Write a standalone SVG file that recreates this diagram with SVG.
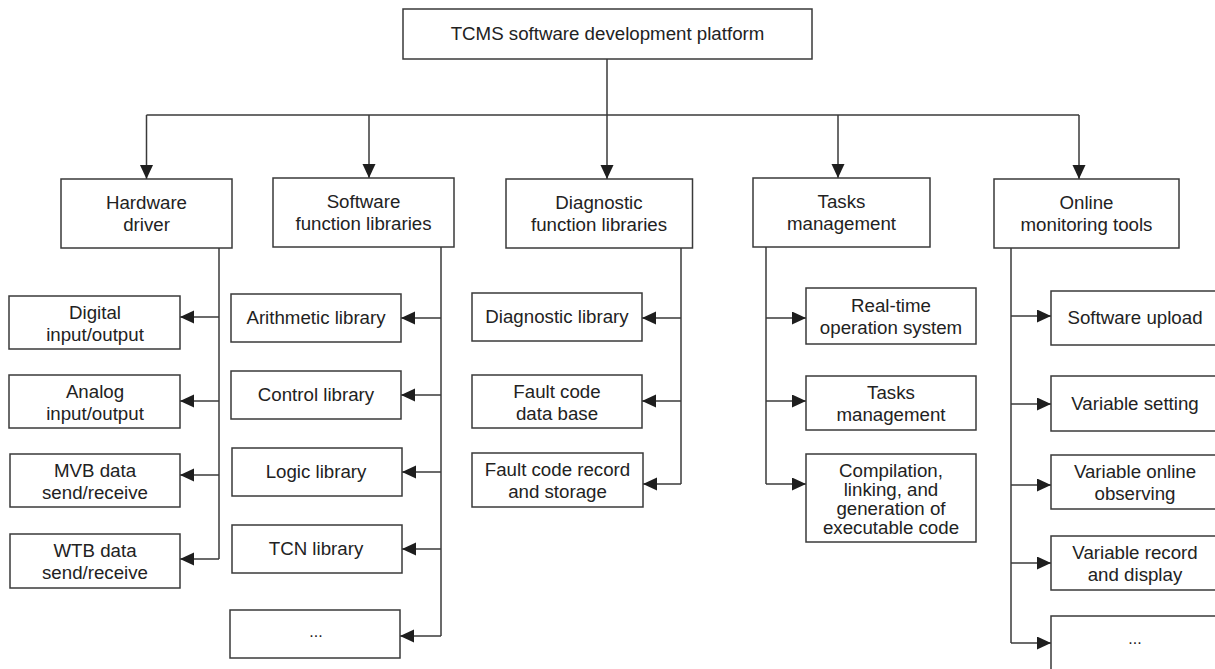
<svg xmlns="http://www.w3.org/2000/svg" width="1215" height="669" viewBox="0 0 1215 669">
<style>
rect{fill:#fff;stroke:#3a3a3a;stroke-width:1.5}
text{font-family:"Liberation Sans",Arial,sans-serif;font-size:18.7px;fill:#222;text-anchor:middle}
.c{fill:none;stroke:#3a3a3a;stroke-width:1.5}
</style>
<defs>
<marker id="a" markerUnits="userSpaceOnUse" markerWidth="14" markerHeight="14" refX="14" refY="6.5" orient="auto">
<path d="M0,0 L14,6.5 L0,13 z" fill="#1e1e1e"/>
</marker>
</defs>
<rect width="1215" height="669" style="fill:#fff;stroke:none"/>
<g id="connectors">
<path class="c" d="M607,59 V179" marker-end="url(#a)"/>
<path class="c" d="M146.5,115 H1079"/>
<path class="c" d="M146.5,115 V179" marker-end="url(#a)"/>
<path class="c" d="M369,115 V178" marker-end="url(#a)"/>
<path class="c" d="M838,115 V178" marker-end="url(#a)"/>
<path class="c" d="M1079,115 V179" marker-end="url(#a)"/>
<path class="c" d="M219,248 V559"/>
<path class="c" d="M219,317 H180" marker-end="url(#a)"/>
<path class="c" d="M219,401 H180" marker-end="url(#a)"/>
<path class="c" d="M219,475 H180" marker-end="url(#a)"/>
<path class="c" d="M219,559 H180" marker-end="url(#a)"/>
<path class="c" d="M441,247 V636"/>
<path class="c" d="M441,318 H401" marker-end="url(#a)"/>
<path class="c" d="M441,395 H401" marker-end="url(#a)"/>
<path class="c" d="M441,472 H402" marker-end="url(#a)"/>
<path class="c" d="M441,549 H402" marker-end="url(#a)"/>
<path class="c" d="M441,636 H400" marker-end="url(#a)"/>
<path class="c" d="M681,248 V484"/>
<path class="c" d="M681,318 H642" marker-end="url(#a)"/>
<path class="c" d="M681,401 H642" marker-end="url(#a)"/>
<path class="c" d="M681,484 H643" marker-end="url(#a)"/>
<path class="c" d="M766,247 V484"/>
<path class="c" d="M766,318 H806" marker-end="url(#a)"/>
<path class="c" d="M766,401 H806" marker-end="url(#a)"/>
<path class="c" d="M766,484 H806" marker-end="url(#a)"/>
<path class="c" d="M1011,248 V643"/>
<path class="c" d="M1011,316 H1051" marker-end="url(#a)"/>
<path class="c" d="M1011,404 H1051" marker-end="url(#a)"/>
<path class="c" d="M1011,485 H1051" marker-end="url(#a)"/>
<path class="c" d="M1011,563 H1051" marker-end="url(#a)"/>
<path class="c" d="M1011,643 H1051" marker-end="url(#a)"/>
</g>
<g id="root"><rect x="403" y="9" width="409" height="50"/><text x="607.5" y="40">TCMS software development platform</text></g>
<g id="hw"><rect x="61" y="179" width="171" height="69"/><text x="146.5" y="209">Hardware</text><text x="146.5" y="231">driver</text></g>
<g id="sw"><rect x="273" y="178" width="181" height="69"/><text x="363.5" y="208">Software</text><text x="363.5" y="230">function libraries</text></g>
<g id="diag"><rect x="506" y="179" width="186.5" height="69"/><text x="599" y="209">Diagnostic</text><text x="599" y="231">function libraries</text></g>
<g id="tasks"><rect x="753" y="178" width="177" height="69"/><text x="841.5" y="208">Tasks</text><text x="841.5" y="230">management</text></g>
<g id="online"><rect x="994" y="179" width="185" height="69"/><text x="1086.5" y="209">Online</text><text x="1086.5" y="231">monitoring tools</text></g>
<g id="digital"><rect x="9" y="296" width="171" height="53"/><text x="95" y="319">Digital</text><text x="95" y="341">input/output</text></g>
<g id="analog"><rect x="9" y="375" width="171" height="53"/><text x="95" y="398">Analog</text><text x="95" y="420">input/output</text></g>
<g id="mvb"><rect x="10" y="454" width="170" height="53"/><text x="95" y="477">MVB data</text><text x="95" y="499">send/receive</text></g>
<g id="wtb"><rect x="10" y="534" width="170" height="54"/><text x="95" y="557">WTB data</text><text x="95" y="579">send/receive</text></g>
<g id="arith"><rect x="231" y="294" width="170" height="48"/><text x="316" y="324">Arithmetic library</text></g>
<g id="control"><rect x="231" y="371" width="170" height="48"/><text x="316" y="401">Control library</text></g>
<g id="logic"><rect x="232" y="448" width="170" height="48"/><text x="316" y="478">Logic library</text></g>
<g id="tcn"><rect x="232" y="525" width="170" height="48"/><text x="316" y="555">TCN library</text></g>
<g id="swmore"><rect x="230" y="610" width="170" height="48"/><text x="316" y="637" style="font-size:16px">...</text></g>
<g id="diaglib"><rect x="472" y="293" width="170" height="48"/><text x="557" y="323">Diagnostic library</text></g>
<g id="fcdb"><rect x="472" y="375" width="170" height="53"/><text x="557" y="398">Fault code</text><text x="557" y="420">data base</text></g>
<g id="fcrs"><rect x="472" y="453" width="171" height="54"/><text x="557.5" y="476">Fault code record</text><text x="557.5" y="498">and storage</text></g>
<g id="rtos"><rect x="806" y="288" width="170" height="56"/><text x="891" y="312">Real-time</text><text x="891" y="334">operation system</text></g>
<g id="taskmgmt"><rect x="806" y="376" width="170" height="54"/><text x="891" y="399">Tasks</text><text x="891" y="421">management</text></g>
<g id="compile"><rect x="806" y="454" width="170" height="88"/><text x="891" y="477">Compilation,</text><text x="891" y="496">linking, and</text><text x="891" y="515">generation of</text><text x="891" y="534">executable code</text></g>
<g id="upload"><rect x="1051" y="291" width="172" height="54"/><text x="1135" y="324">Software upload</text></g>
<g id="varset"><rect x="1051" y="376" width="172" height="55"/><text x="1135" y="410">Variable setting</text></g>
<g id="varobs"><rect x="1051" y="455" width="172" height="54"/><text x="1135" y="478">Variable online</text><text x="1135" y="500">observing</text></g>
<g id="varrec"><rect x="1051" y="536" width="172" height="54"/><text x="1135" y="559">Variable record</text><text x="1135" y="581">and display</text></g>
<g id="onmore"><rect x="1051" y="616" width="172" height="70"/><text x="1135" y="644" style="font-size:16px">...</text></g>
</svg>
